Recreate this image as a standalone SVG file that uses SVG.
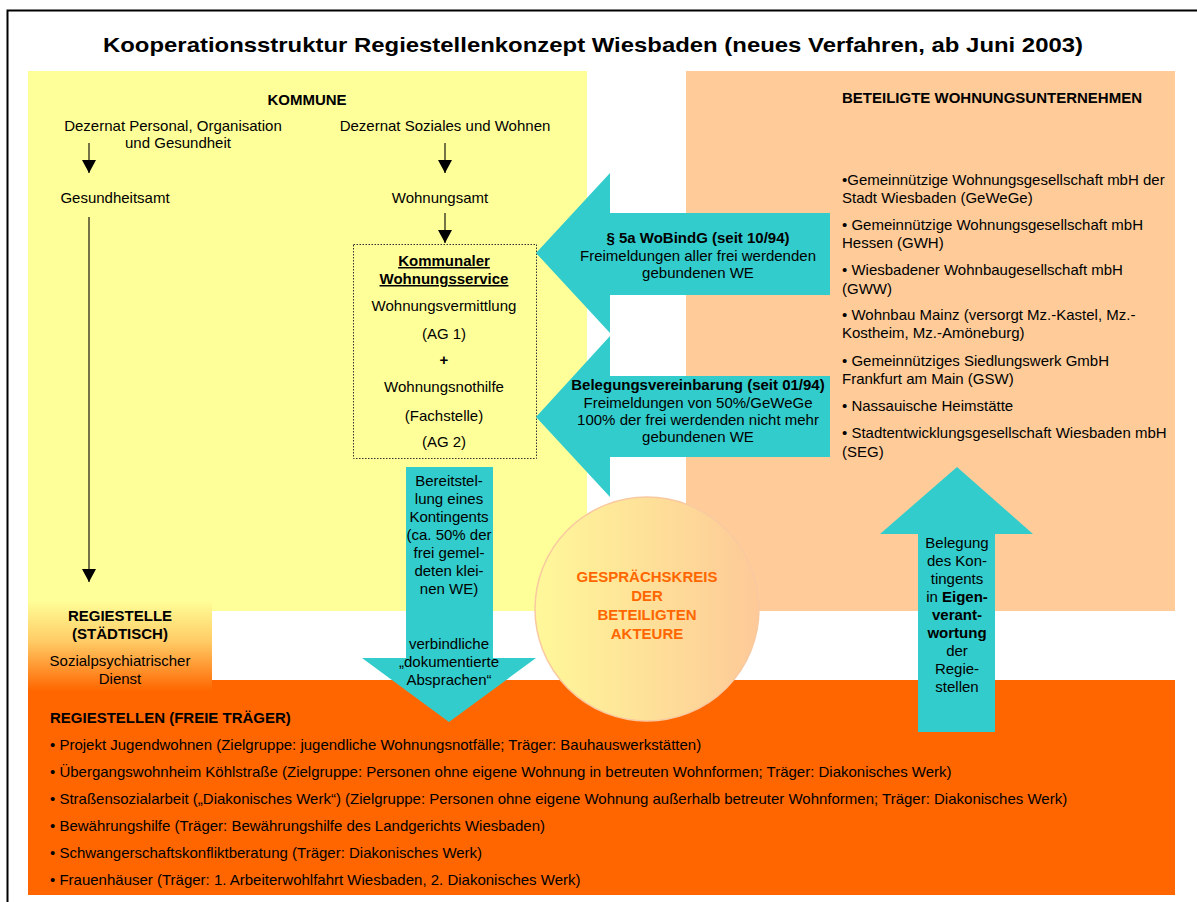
<svg xmlns="http://www.w3.org/2000/svg" width="1197" height="902" viewBox="0 0 1197 902">
<style>
text{font-family:"Liberation Sans",Arial,sans-serif;fill:#000;font-size:15px}
.b{font-weight:bold}
.c{text-anchor:middle}
.h{font-size:15px;font-weight:bold}
.t{fill:#33CCCC}
.o{fill:#FF6600}
.g{fill:#FF6600;font-weight:bold}
.conn{stroke:#000;stroke-width:1.1;fill:none}
</style>
<defs>
<marker id="ah" markerUnits="userSpaceOnUse" markerWidth="14" markerHeight="14" refX="13" refY="7" orient="auto" viewBox="0 0 14 14">
<path d="M0,0 L13,7 L0,14 z" fill="#000"/>
</marker>
<linearGradient id="gReg" x1="0" y1="0" x2="0" y2="1">
<stop offset="0" stop-color="#FFFF99"/>
<stop offset="0.45" stop-color="#FFCC66"/>
<stop offset="1" stop-color="#FF6600"/>
</linearGradient>
<linearGradient id="gCirc" x1="0" y1="0" x2="1" y2="0">
<stop offset="0" stop-color="#FFF899"/>
<stop offset="1" stop-color="#FDC998"/>
</linearGradient>
</defs>
<rect x="0" y="0" width="1197" height="902" fill="#fff"/>
<path d="M7.5,902 V10.5 H1197" stroke="#000" stroke-width="2" fill="none"/>
<text x="103" y="52" class="b" style="font-size:21px" textLength="980" lengthAdjust="spacingAndGlyphs">Kooperationsstruktur Regiestellenkonzept Wiesbaden (neues Verfahren, ab Juni 2003)</text>

<g id="kommune">
<rect x="28" y="71" width="559" height="540" fill="#FFFF99"/>
<text x="307" y="105" class="h c">KOMMUNE</text>
<text x="173" y="131" class="c">Dezernat Personal, Organisation</text>
<text x="178" y="148" class="c">und Gesundheit</text>
<text x="115" y="203" class="c">Gesundheitsamt</text>
<text x="445" y="131" class="c">Dezernat Soziales und Wohnen</text>
<text x="440" y="203" class="c">Wohnungsamt</text>
</g>

<g id="unternehmen">
<rect x="686" y="71" width="489" height="540" fill="#FFCC99"/>
<text x="842" y="103" class="h">BETEILIGTE WOHNUNGSUNTERNEHMEN</text>
<text x="842" y="185">•Gemeinnützige Wohnungsgesellschaft mbH der</text>
<text x="842" y="203">Stadt Wiesbaden (GeWeGe)</text>
<text x="842" y="230">• Gemeinnützige Wohnungsgesellschaft mbH</text>
<text x="842" y="248">Hessen (GWH)</text>
<text x="842" y="275">• Wiesbadener Wohnbaugesellschaft mbH</text>
<text x="842" y="294">(GWW)</text>
<text x="842" y="320">• Wohnbau Mainz (versorgt Mz.-Kastel, Mz.-</text>
<text x="842" y="338">Kostheim, Mz.-Amöneburg)</text>
<text x="842" y="366">• Gemeinnütziges Siedlungswerk GmbH</text>
<text x="842" y="384">Frankfurt am Main (GSW)</text>
<text x="842" y="411">• Nassauische Heimstätte</text>
<text x="842" y="438">• Stadtentwicklungsgesellschaft Wiesbaden mbH</text>
<text x="842" y="457">(SEG)</text>
</g>

<g id="freie-traeger">
<rect x="28" y="680" width="1147" height="215" class="o"/>
<text x="50" y="723" class="h">REGIESTELLEN (FREIE TRÄGER)</text>
<text x="50" y="750">• Projekt Jugendwohnen (Zielgruppe: jugendliche Wohnungsnotfälle; Träger: Bauhauswerkstätten)</text>
<text x="50" y="777">• Übergangswohnheim Köhlstraße (Zielgruppe: Personen ohne eigene Wohnung in betreuten Wohnformen; Träger: Diakonisches Werk)</text>
<text x="50" y="804">• Straßensozialarbeit („Diakonisches Werk“) (Zielgruppe: Personen ohne eigene Wohnung außerhalb betreuter Wohnformen; Träger: Diakonisches Werk)</text>
<text x="50" y="831">• Bewährungshilfe (Träger: Bewährungshilfe des Landgerichts Wiesbaden)</text>
<text x="50" y="858">• Schwangerschaftskonfliktberatung (Träger: Diakonisches Werk)</text>
<text x="50" y="885">• Frauenhäuser (Träger: 1. Arbeiterwohlfahrt Wiesbaden, 2. Diakonisches Werk)</text>
</g>

<g id="regiestelle-staedtisch">
<rect x="28" y="600" width="184" height="91" fill="url(#gReg)"/>
<text x="120" y="621" class="b c">REGIESTELLE</text>
<text x="120" y="639" class="b c">(STÄDTISCH)</text>
<text x="120" y="666" class="c">Sozialpsychiatrischer</text>
<text x="120" y="684" class="c">Dienst</text>
</g>

<g id="wohnungsservice">
<rect x="353.5" y="244.5" width="183" height="214" fill="#FFFF99" stroke="#333" stroke-width="1" stroke-dasharray="1.5,1.5"/>
<text x="444" y="266" class="b c" text-decoration="underline">Kommunaler</text>
<text x="444" y="284" class="b c" text-decoration="underline">Wohnungsservice</text>
<text x="444" y="311" class="c">Wohnungsvermittlung</text>
<text x="444" y="339" class="c">(AG 1)</text>
<text x="444" y="365" class="b c">+</text>
<text x="444" y="392" class="c">Wohnungsnothilfe</text>
<text x="444" y="421" class="c">(Fachstelle)</text>
<text x="444" y="447" class="c">(AG 2)</text>
</g>

<g id="pfeil-wobindg">
<polygon points="830,213 610,213 610,173 536,253 610,333 610,295 830,295" class="t"/>
<text x="698" y="243" class="b c">§ 5a WoBindG (seit 10/94)</text>
<text x="698" y="261" class="c">Freimeldungen aller frei werdenden</text>
<text x="698" y="278" class="c">gebundenen WE</text>
</g>

<g id="pfeil-belegung">
<polygon points="830,376 610,376 610,336 536,417 610,497 610,457 830,457" class="t"/>
<text x="698" y="390" class="b c">Belegungsvereinbarung (seit 01/94)</text>
<text x="698" y="408" class="c">Freimeldungen von 50%/GeWeGe</text>
<text x="698" y="425" class="c">100% der frei werdenden nicht mehr</text>
<text x="698" y="442" class="c">gebundenen WE</text>
</g>

<g id="pfeil-kontingent">
<polygon points="406,467 493,467 493,658 536,658 449,722 362,658 406,658" class="t"/>
<text x="449" y="486" class="c">Bereitstel-</text>
<text x="449" y="504" class="c">lung eines</text>
<text x="449" y="522" class="c">Kontingents</text>
<text x="449" y="540" class="c">(ca. 50% der</text>
<text x="449" y="558" class="c">frei gemel-</text>
<text x="449" y="576" class="c">deten klei-</text>
<text x="449" y="594" class="c">nen WE)</text>
<text x="449" y="649" class="c">verbindliche</text>
<text x="449" y="667" class="c">„dokumentierte</text>
<text x="449" y="685" class="c">Absprachen“</text>
</g>

<g id="pfeil-eigenverantwortung">
<polygon points="918,732 918,534 880,534 957,467 1033,534 995,534 995,732" class="t"/>
<text x="957" y="548" class="c">Belegung</text>
<text x="957" y="566" class="c">des Kon-</text>
<text x="957" y="584" class="c">tingents</text>
<text x="957" y="602" class="c">in <tspan class="b">Eigen-</tspan></text>
<text x="957" y="620" class="b c">verant-</text>
<text x="957" y="638" class="b c">wortung</text>
<text x="957" y="656" class="c">der</text>
<text x="957" y="674" class="c">Regie-</text>
<text x="957" y="692" class="c">stellen</text>
</g>

<g id="gespraechskreis">
<circle cx="647" cy="609" r="112" fill="url(#gCirc)" stroke="#F9C9A0" stroke-width="1.5"/>
<text x="647" y="582" class="g c">GESPRÄCHSKREIS</text>
<text x="647" y="601" class="g c">DER</text>
<text x="647" y="620" class="g c">BETEILIGTEN</text>
<text x="647" y="639" class="g c">AKTEURE</text>
</g>

<g id="connectors" class="conn">
<line x1="89" y1="143" x2="89" y2="173" marker-end="url(#ah)"/>
<line x1="89" y1="217" x2="89" y2="582" marker-end="url(#ah)"/>
<line x1="445" y1="143" x2="445" y2="173" marker-end="url(#ah)"/>
<line x1="445" y1="213" x2="445" y2="243" marker-end="url(#ah)"/>
</g>
</svg>
